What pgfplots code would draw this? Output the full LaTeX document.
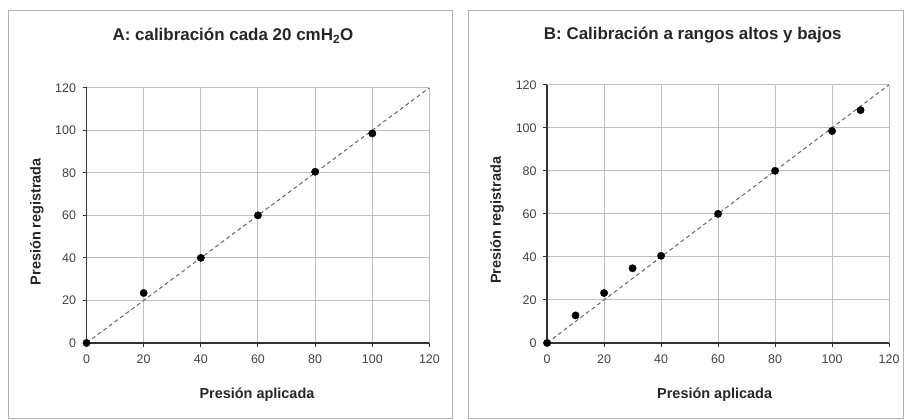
\documentclass[border=0pt]{standalone}
\usepackage{pgfplots}
\pgfplotsset{compat=1.18}
\usepackage{fontspec}
\setmainfont{Liberation Sans}
\begin{document}
\pgfplotsset{
  calib/.style={
    scale only axis,
    xmin=0,xmax=120,ymin=0,ymax=120,
    xtick={0,20,...,120},ytick={0,20,...,120},
    grid=major,
    major grid style={gray!50,line width=1pt},
    axis lines=left,
    axis line style={black!80,line width=1.3pt,-},
    tick style={black!80,line width=1pt},
    tick align=outside,
    major tick length=4pt,
    ticklabel style={font=\fontsize{12.5}{14}\selectfont,text=black!75},
    /pgf/number format/assume math mode=true,
    xticklabel style={yshift=-4pt},
    yticklabel style={xshift=-3pt},
    label style={font=\bfseries\fontsize{14.5}{16}\selectfont,text=black!85},
    title style={font=\bfseries\fontsize{17}{19}\selectfont,anchor=center,text=black!85},
    clip=false,
  },
  marksty/.style={only marks,mark=*,mark size=3.7pt,color=black},
  linesty/.style={no marks,gray!80!black,dashed,line width=1pt,dash pattern=on 4pt off 3pt},
}
\begin{tikzpicture}
\useasboundingbox (0pt,0pt) rectangle (904pt,421pt);
\draw[gray!60,line width=1pt] (6pt,1pt) rectangle (451pt,410pt);
\draw[gray!60,line width=1pt] (467pt,1pt) rectangle (903pt,410pt);
\begin{axis}[calib,at={(84pt,77pt)},anchor=south west,width=344pt,height=256pt,
  title={A: calibración cada 20 cmH\textsubscript{2}O},
  title style={at={(axis description cs:0.427,1.18)}},
  xlabel={Presión aplicada},
  xlabel style={at={(axis description cs:0.497,-0.203)},anchor=center},
  ylabel={Presión registrada},
  ylabel style={at={(axis description cs:-0.145,0.475)},anchor=center},
]
\addplot[linesty] coordinates {(0,0) (120,120)};
\addplot[marksty] coordinates {(0,0) (20,23.5) (40,40) (60,60) (80,80.5) (100,98.5)};
\end{axis}
\begin{axis}[calib,at={(546pt,77pt)},anchor=south west,width=343pt,height=259pt,
  title={B: Calibración a rangos altos y bajos},
  title style={at={(axis description cs:0.426,1.17)}},
  xlabel={Presión aplicada},
  xlabel style={at={(axis description cs:0.49,-0.2)},anchor=center},
  ylabel={Presión registrada},
  ylabel style={at={(axis description cs:-0.146,0.475)},anchor=center},
]
\addplot[linesty] coordinates {(0,0) (120,120)};
\addplot[marksty] coordinates {(0,0) (10,12.8) (20,23.2) (30,34.7) (40,40.5) (60,60) (80,80) (100,98.5) (110,108.2)};
\end{axis}
\end{tikzpicture}
\end{document}
